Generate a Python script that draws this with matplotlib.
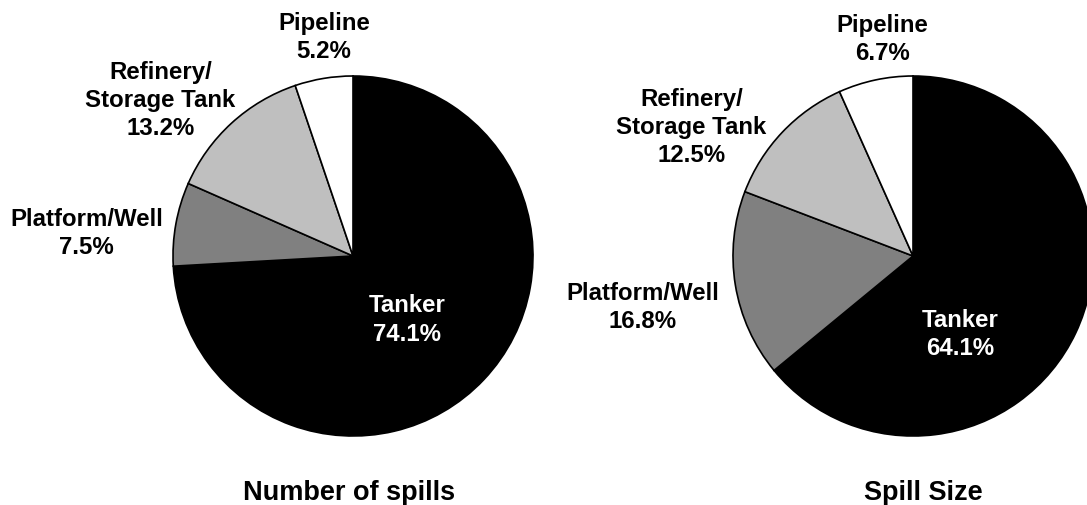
import matplotlib
matplotlib.use("Agg")
import matplotlib.pyplot as plt

plt.rcParams['font.family'] = ['Liberation Sans', 'DejaVu Sans']
plt.rcParams['font.weight'] = 'bold'

SOURCES = ["Tanker", "Platform/Well", "Refinery/\nStorage Tank", "Pipeline"]
COLORS = ["black", "#808080", "#bfbfbf", "white"]

SPILL_COUNT = [74.1, 7.5, 13.2, 5.2]
SPILL_SIZE = [64.1, 16.8, 12.5, 6.7]

# label anchors, in units of pie radius from the centre
COUNT_POS = [(0.30, -0.35), (-1.48, 0.13), (-1.07, 0.87), (-0.16, 1.22)]
SIZE_POS = [(0.26, -0.43), (-1.50, -0.28), (-1.23, 0.72), (-0.17, 1.21)]

W, H = 1087, 506
R = 180
LIM = 1.6


def draw(ax, values, pos, title, title_x):
  ax.pie(values, colors = COLORS, startangle = 90, counterclock = False,
         wedgeprops = dict(edgecolor = 'black', linewidth = 1.2))
  ax.set_xlim(-LIM, LIM)
  ax.set_ylim(-LIM, LIM)
  ax.set_aspect('equal')
  ax.axis('off')
  for name, v, (x, y), c in zip(SOURCES, values, pos, COLORS):
    ax.text(x, y, "{}\n{:.1f}%".format(name, v), ha = 'center', va = 'center',
            fontsize = 17.3, color = 'white' if c == 'black' else 'black',
            linespacing = 1.28, clip_on = False)
  ax.text(title_x, -1.31, title, ha = 'center', va = 'center', fontsize = 19.5, clip_on = False)


fig = plt.figure(figsize = (W / 100, H / 100), dpi = 100)

for cx, values, pos, title, tx in [(353, SPILL_COUNT, COUNT_POS, "Number of spills", -0.02),
                                   (913, SPILL_SIZE, SIZE_POS, "Spill Size", 0.06)]:
  cy = H - 257
  size = 2 * LIM * R
  ax = fig.add_axes([(cx - size / 2) / W, (cy - size / 2) / H, size / W, size / H])
  draw(ax, values, pos, title, tx)

fig.savefig("out.png", dpi = 100)
